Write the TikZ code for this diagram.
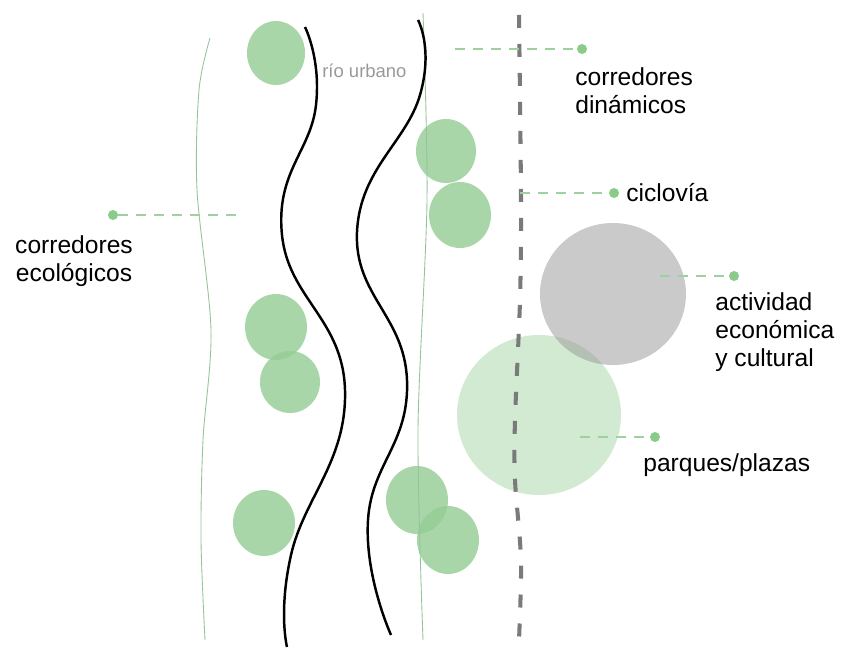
\documentclass[tikz,border=0pt]{standalone}
\usepackage{fontspec}
\setmainfont{Liberation Sans}
\definecolor{treegreen}{HTML}{94CC94}
\definecolor{parkgreen}{HTML}{D2EAD2}
\definecolor{plazagray}{HTML}{CACACA}
\definecolor{mixgray}{HTML}{B4C0B4}
\definecolor{edgegreen}{HTML}{93C49D}
\definecolor{leadgreen}{HTML}{9DD29F}
\definecolor{dotgreen}{HTML}{8ACB8C}
\definecolor{bikegray}{HTML}{7A7A7A}
\begin{document}
\begin{tikzpicture}[x=0.02cm,y=-0.02cm,
  every node/.style={font=\fontsize{14}{16}\selectfont},
  tree/.style={fill=treegreen,opacity=0.8},
  lead/.style={leadgreen,line width=1.1pt,dash pattern=on 0.2cm off 0.16cm},
  leaddot/.style={circle,fill=dotgreen,inner sep=0pt,minimum size=0.2cm},
  label/.style={inner sep=0pt,align=left}]
  \useasboundingbox (0,0) rectangle (852,662);
  \fill [tree] (276,53) ellipse [x radius=29,y radius=32];
  \fill [tree] (446,151) ellipse [x radius=30,y radius=32];
  \fill [tree] (460,215) ellipse [x radius=31,y radius=33];
  \fill [tree] (276,327) ellipse [x radius=31,y radius=33];
  \fill [tree] (290,382) ellipse [x radius=30,y radius=31];
  \fill [tree] (264,523) ellipse [x radius=31,y radius=33];
  \fill [tree] (417,500) ellipse [x radius=31,y radius=34];
  \fill [tree] (448,540) ellipse [x radius=31,y radius=34];
  \fill [parkgreen] (539,415) ellipse [x radius=82,y radius=80];
  \fill [plazagray] (613,294) ellipse [x radius=73,y radius=71];
  \begin{scope}
    \clip (539,415) ellipse [x radius=82,y radius=80];
    \fill [mixgray] (613,294) ellipse [x radius=73,y radius=71];
  \end{scope}
  \draw [edgegreen,line width=0.5pt] plot [smooth] coordinates {(210,38) (199,90) (197,190) (211,330) (203,440) (201,540) (205,640)};
  \draw [edgegreen,line width=0.5pt] plot [smooth] coordinates {(423,13) (427,200) (418,430) (423,640)};
  \draw [line width=1.4pt] plot [smooth,tension=0.8] coordinates {(305,27) (316,105) (282,235) (345,390) (291,555) (287,647)};
  \draw [line width=1.4pt] plot [smooth,tension=0.8] coordinates {(418,20) (420,95) (357,232) (407,380) (368,520) (391,635)};
  \draw [bikegray,line width=2.3pt,dash pattern=on 0.26cm off 0.32cm] plot [smooth] coordinates {(519,15) (521,200) (520,300) (515,420) (515,480) (521,560) (519,640)};
  \node [gray!80,font=\fontsize{10.5}{12}\selectfont,anchor=west,inner sep=0pt] (rio) at (322,71) {río urbano};
  \node [leaddot] (dinDot) at (582,49) {};
  \node [leaddot] (cicDot) at (614,193) {};
  \node [leaddot] (ecoDot) at (113,215) {};
  \node [leaddot] (actDot) at (734,276) {};
  \node [leaddot] (parDot) at (655,437) {};
  \coordinate (dinEnd) at (455,49);
  \coordinate (cicEnd) at (520,193);
  \coordinate (ecoEnd) at (240,215);
  \coordinate (actEnd) at (660,276);
  \coordinate (parEnd) at (580,437);
  \draw [lead] (dinEnd) -- (dinDot);
  \draw [lead] (cicEnd) -- (cicDot);
  \draw [lead] (ecoDot) -- (ecoEnd);
  \draw [lead] (actEnd) -- (actDot);
  \draw [lead] (parEnd) -- (parDot);
  \node [label,anchor=west] (din) at (575,91) {corredores\\dinámicos};
  \node [label,anchor=west] (cic) at (626,193) {ciclovía};
  \node [label,align=center] (eco) at (74,261) {corredores\\ecológicos};
  \node [label,anchor=west] (act) at (715,332) {actividad\\económica\\y cultural};
  \node [label,anchor=west] (par) at (643,465) {parques/plazas};
\end{tikzpicture}
\end{document}
